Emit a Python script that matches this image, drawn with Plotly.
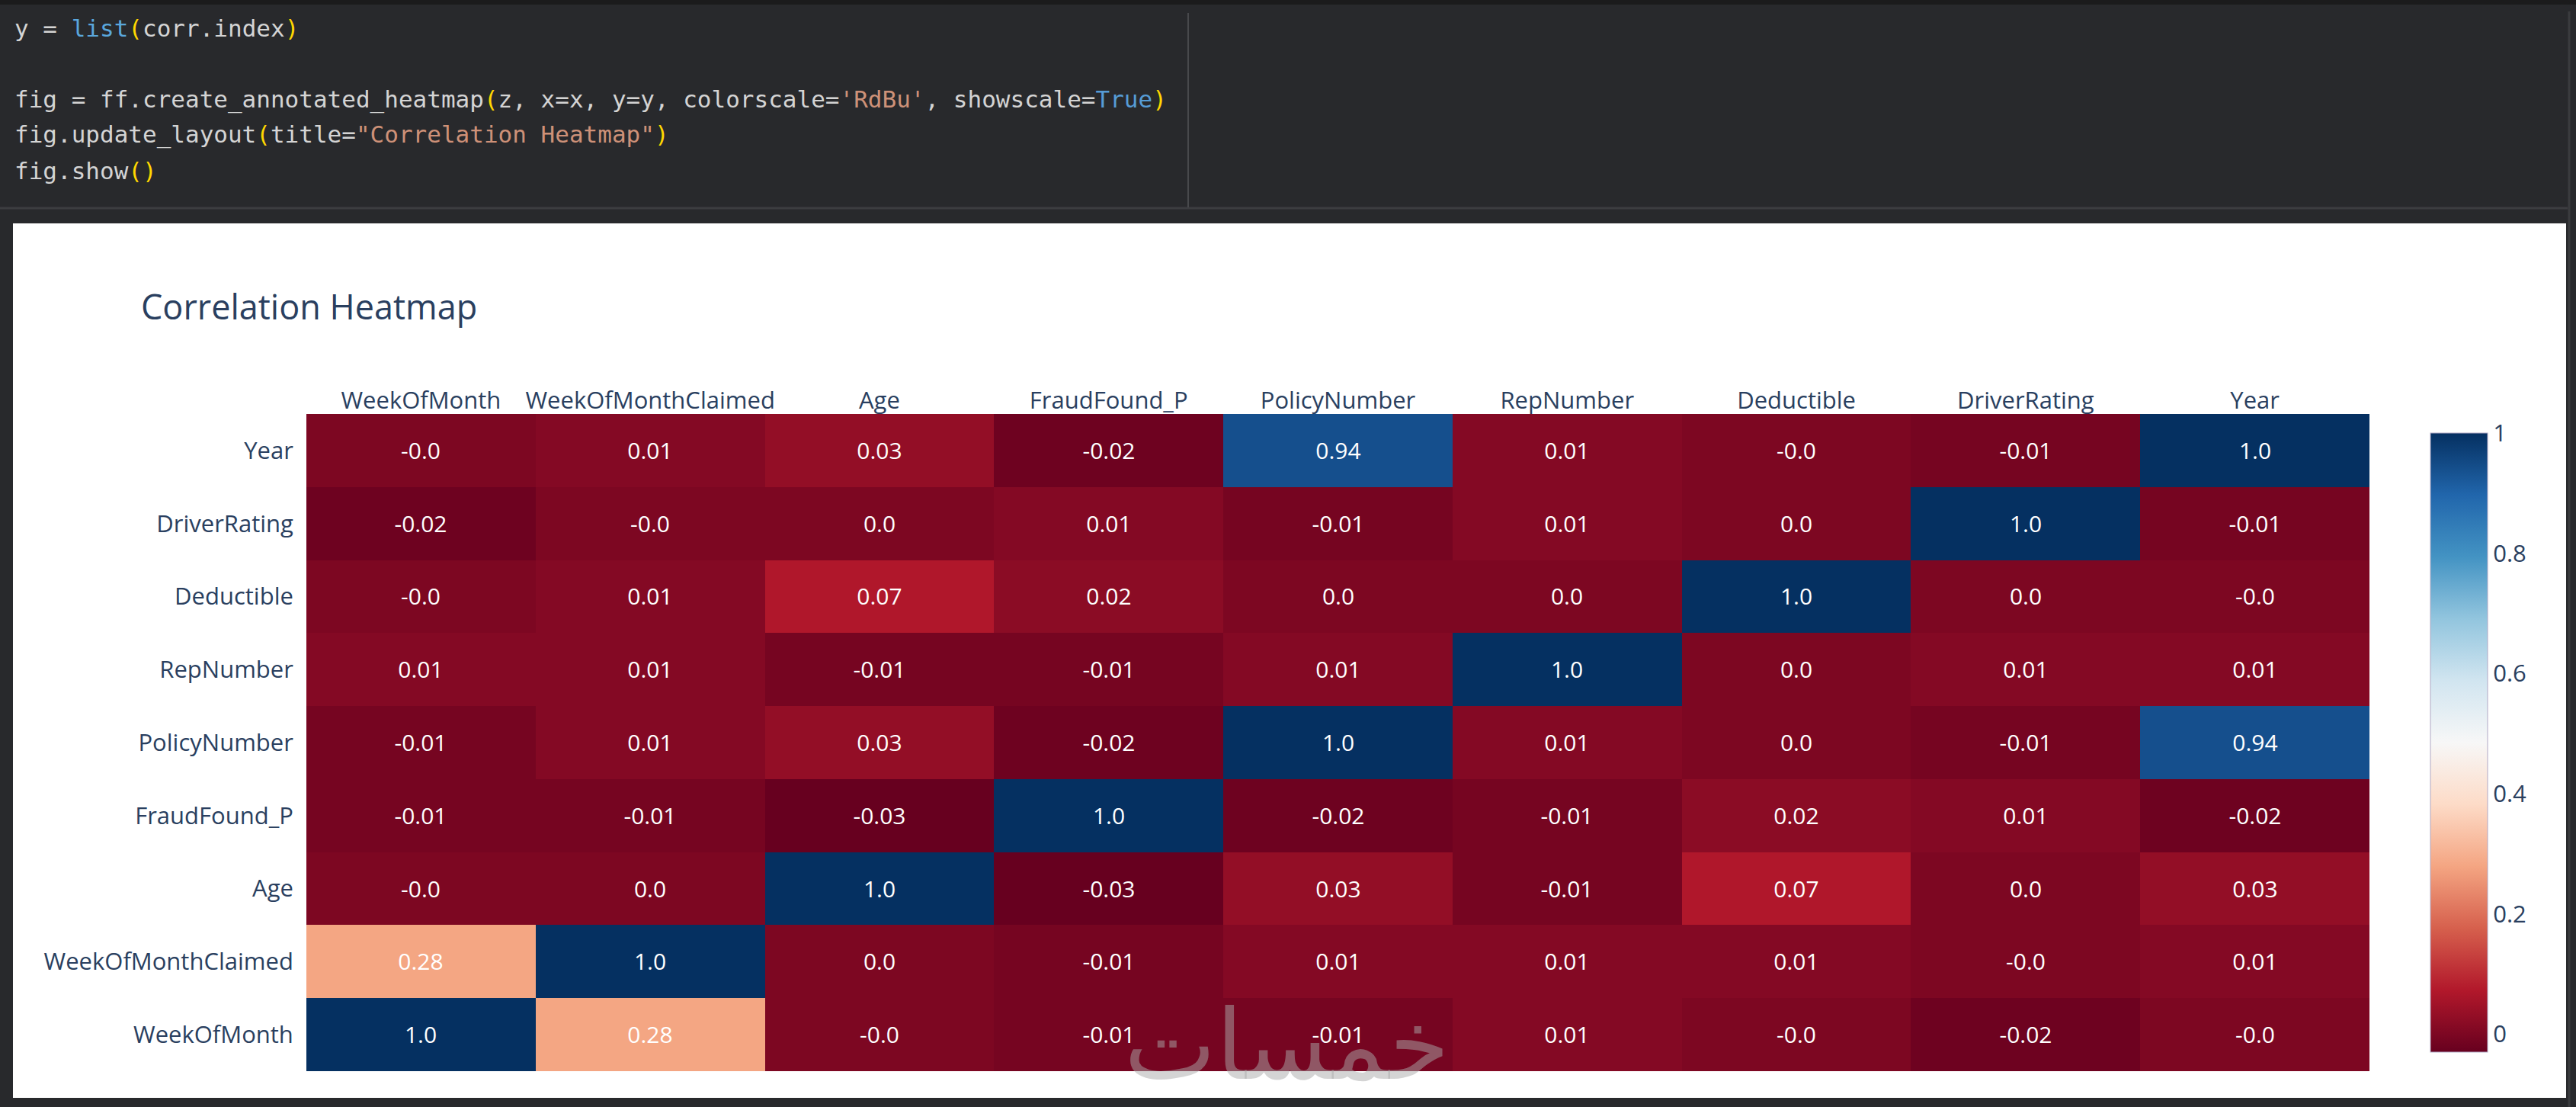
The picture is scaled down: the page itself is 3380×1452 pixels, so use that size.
import plotly.graph_objects as go

# kolom / baris matriks korelasi
columns = ['WeekOfMonth', 'WeekOfMonthClaimed', 'Age', 'FraudFound_P', 'PolicyNumber',
           'RepNumber', 'Deductible', 'DriverRating', 'Year']
rows = list(columns)  # corr.index, baris pertama digambar paling bawah

# nilai korelasi (dibulatkan 2 desimal), urutan sama dengan rows
z = [
    [1.0, 0.28, -0.0, -0.01, -0.01, 0.01, -0.0, -0.02, -0.0],      # WeekOfMonth
    [0.28, 1.0, 0.0, -0.01, 0.01, 0.01, 0.01, -0.0, 0.01],         # WeekOfMonthClaimed
    [-0.0, 0.0, 1.0, -0.03, 0.03, -0.01, 0.07, 0.0, 0.03],         # Age
    [-0.01, -0.01, -0.03, 1.0, -0.02, -0.01, 0.02, 0.01, -0.02],   # FraudFound_P
    [-0.01, 0.01, 0.03, -0.02, 1.0, 0.01, 0.0, -0.01, 0.94],       # PolicyNumber
    [0.01, 0.01, -0.01, -0.01, 0.01, 1.0, 0.0, 0.01, 0.01],        # RepNumber
    [-0.0, 0.01, 0.07, 0.02, 0.0, 0.0, 1.0, 0.0, -0.0],            # Deductible
    [-0.02, -0.0, 0.0, 0.01, -0.01, 0.01, 0.0, 1.0, -0.01],        # DriverRating
    [-0.0, 0.01, 0.03, -0.02, 0.94, 0.01, -0.0, -0.01, 1.0],       # Year
]
colorbar_ticks = [0, 0.2, 0.4, 0.6, 0.8, 1]

W, H = 3380, 1452
BG = '#28292c'
FONT = 'Open Sans, verdana, arial, sans-serif'
INK = '#2a3f5f'

# ukuran dalam piksel -> koordinat paper
def px(x):
    return x / W

def py(y):
    return 1 - y / H

fig = go.Figure()

fig.add_trace(go.Heatmap(
    z=z,
    x=columns,
    y=rows,
    colorscale='RdBu',
    text=[[str(v) for v in r] for r in z],
    texttemplate='%{text}',
    textfont=dict(family=FONT, size=30, color='white'),
    showscale=True,
    colorbar=dict(
        x=px(3189), xanchor='left', xpad=0,
        y=py(1380), yanchor='bottom', ypad=0,
        len=(1380 - 568) / H, lenmode='fraction',
        thickness=75,
        tickvals=colorbar_ticks,
        tickfont=dict(family=FONT, size=31, color=INK),
        outlinewidth=1, outlinecolor='#b0a8c4',
    ),
))

# teks sel kode notebook di atas grafik
TXT = '#d4d4d4'
BLUE = '#569cd6'
LIST = '#5aa7dc'
YEL = '#ffd700'
ORG = '#ce9178'
code_lines = [
    (37, [('y = ', TXT), ('list', LIST), ('(', YEL), ('corr.index', TXT), (')', YEL)]),
    (131, [('fig = ff.create_annotated_heatmap', TXT), ('(', YEL), ('z, x=x, y=y, colorscale=', TXT),
           ("'RdBu'", ORG), (', showscale=', TXT), ('True', BLUE), (')', YEL)]),
    (177, [('fig.update_layout', TXT), ('(', YEL), ('title=', TXT), ('"Correlation Heatmap"', ORG), (')', YEL)]),
    (224, [('fig.show', TXT), ('()', YEL)]),
]
for ypos, tokens in code_lines:
    html = ''.join(f'<span style="color:{c}">{t}</span>' for t, c in tokens)
    fig.add_annotation(
        x=px(17), y=py(ypos), xref='paper', yref='paper',
        xanchor='left', yanchor='middle', showarrow=False,
        text=html, align='left',
        font=dict(family='DejaVu Sans Mono', size=31, color=TXT),
    )

# watermark
fig.add_annotation(
    x=px(1688), y=py(1370), xref='paper', yref='paper',
    xanchor='center', yanchor='middle', showarrow=False,
    text='خمسات',
    font=dict(family='DejaVu Sans', size=128, color='rgba(170,170,170,0.5)'),
)

# latar: area putih output, garis sel kode
fig.add_shape(type='rect', xref='paper', yref='paper', layer='below',
              x0=px(17), x1=px(3367), y0=py(1440), y1=py(293),
              fillcolor='white', line=dict(width=0))
fig.add_shape(type='rect', xref='paper', yref='paper', layer='below',
              x0=0, x1=1, y0=py(6), y1=1,
              fillcolor='#1b1b1c', line=dict(width=0))
fig.add_shape(type='line', xref='paper', yref='paper', layer='below',
              x0=0, x1=px(3369), y0=py(273), y1=py(273),
              line=dict(color='#3c3d40', width=3))
fig.add_shape(type='line', xref='paper', yref='paper', layer='below',
              x0=px(1559), x1=px(1559), y0=py(17), y1=py(272),
              line=dict(color='#48494c', width=2))
fig.add_shape(type='line', xref='paper', yref='paper', layer='below',
              x0=px(3371), x1=px(3371), y0=py(15), y1=py(1452),
              line=dict(color='#3a3b3e', width=3))

fig.update_layout(
    width=W,
    height=H,
    margin=dict(l=0, r=0, t=0, b=0),
    paper_bgcolor=BG,
    plot_bgcolor='white',
    font=dict(family=FONT, size=31, color=INK),
    title=dict(
        text='Correlation Heatmap',
        x=px(185), xanchor='left', xref='paper',
        y=py(403), yanchor='middle', yref='paper',
        font=dict(family=FONT, size=45, color=INK),
    ),
    xaxis=dict(
        domain=[px(402), px(3109)],
        side='top', ticks='', showgrid=False, zeroline=False,
        tickfont=dict(size=31, color=INK),
    ),
    yaxis=dict(
        domain=[py(1405), py(543)],
        ticks='', ticksuffix='  ', showgrid=False, zeroline=False,
        tickfont=dict(size=31, color=INK),
    ),
)

# hilangkan margin bawaan body supaya kanvas pas di jendela
fig.write_html('out.html', config={'displayModeBar': False},
               post_script=f"document.body.style.margin='0';document.body.style.background='{BG}';")
